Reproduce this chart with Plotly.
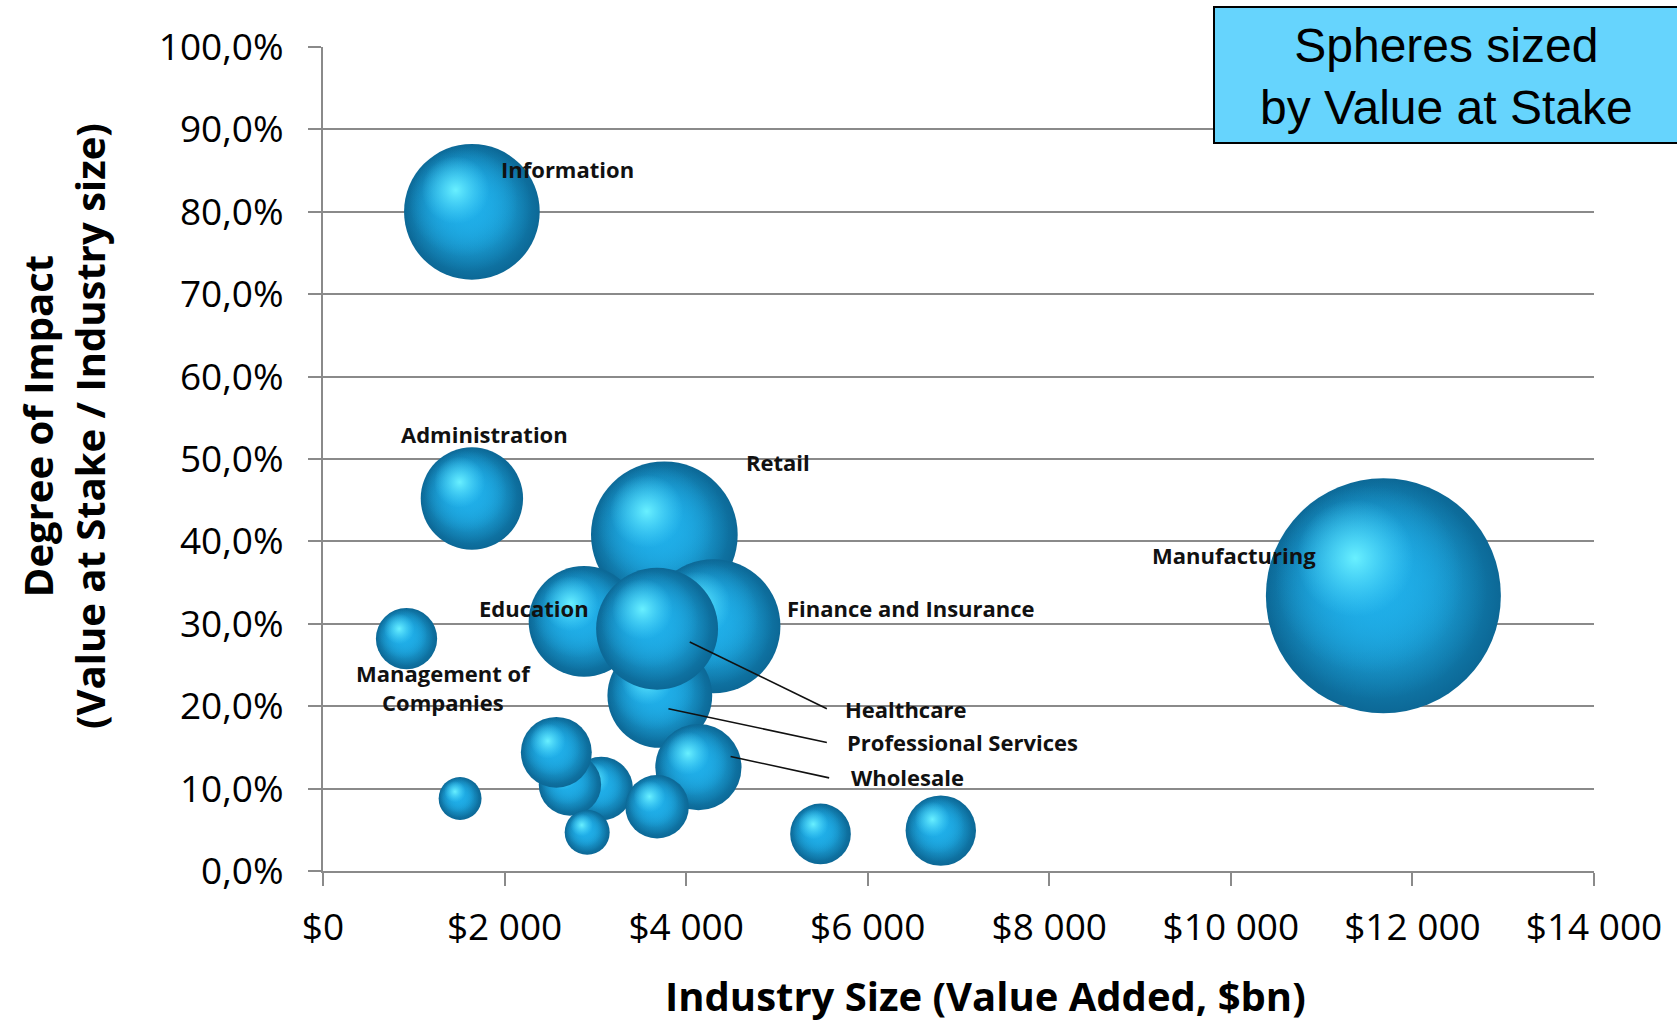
import math
import plotly.graph_objects as go

# ---------------- data ----------------
industries = ["Manufacturing", "Information", "Administration", "Retail", "Education",
              "Finance and Insurance", "Professional Services", "Healthcare",
              "Wholesale", "Management of Companies",
              "", "", "", "", "", "", "", ""]
industry_size = [11680, 1640, 1640, 3760, 2875, 4300, 3710, 3680, 4135, 920,
                 1510, 3065, 2720, 2570, 2910, 3680, 5480, 6805]          # $bn
degree_of_impact = [0.334, 0.800, 0.452, 0.408, 0.303, 0.297, 0.213, 0.294, 0.126, 0.282,
                    0.088, 0.100, 0.105, 0.144, 0.047, 0.078, 0.045, 0.049]
value_at_stake = [3900, 1300, 740, 1520, 865, 1270, 775, 1050, 525, 265,
                  130, 285, 275, 355, 143, 285, 260, 350]                # $bn

label_text = ["Information", "Administration", "Retail", "Manufacturing", "Education",
              "Finance and Insurance", "Management of<br>Companies", "Healthcare",
              "Professional Services", "Wholesale"]
label_x = [2690, 1780, 5010, 10030, 2320, 6480, 1330, 6420, 7045, 6435]
label_y = [0.852, 0.530, 0.496, 0.383, 0.319, 0.319, 0.223, 0.197, 0.156, 0.114]

leader_x0 = [4040, 3805, 4490]
leader_y0 = [0.278, 0.197, 0.139]
leader_x1 = [5550, 5550, 5575]
leader_y1 = [0.197, 0.156, 0.113]

x_ticks = [0, 2000, 4000, 6000, 8000, 10000, 12000, 14000]
x_tick_text = ["$0", "$2 000", "$4 000", "$6 000", "$8 000", "$10 000", "$12 000", "$14 000"]
y_ticks = [0.0, 0.1, 0.2, 0.3, 0.4, 0.5, 0.6, 0.7, 0.8, 0.9, 1.0]

# ---------------- layout geometry ----------------
W, H = 1677, 1024
L, R, T, B = 323, 83, 47, 153
PW, PH = W - L - R, H - T - B
X_RANGE = [0, 14000]
Y_RANGE = [0, 1.0]
px_per_x = PW / (X_RANGE[1] - X_RANGE[0])
px_per_y = PH / (Y_RANGE[1] - Y_RANGE[0])


def px(xpix):
    return (xpix - L) / PW


def py(ypix):
    return (H - B - ypix) / PH


D_MAX = 235.0
sizeref = 2.0 * max(value_at_stake) / D_MAX ** 2

fig = go.Figure()

# sphere shading layers: (diameter factor, dx, dy, edge colour, centre colour)
layers = [
    (1.00, 0.00, 0.00, "#0c6896", "#1eabe4"),
    (0.94, -0.03, -0.03, "rgba(30,170,228,0)", "rgba(30,170,228,1)"),
    (0.80, -0.06, -0.07, "rgba(32,176,234,0)", "rgba(32,176,234,1)"),
    (0.50, -0.12, -0.16, "rgba(75,215,252,0)", "rgba(105,240,255,1)"),
]

for name, xv, yv, v in zip(industries, industry_size, degree_of_impact, value_at_stake):
    D = math.sqrt(2.0 * v / sizeref)
    for f, dxf, dyf, c_edge, c_center in layers:
        fig.add_trace(go.Scatter(
            x=[xv + dxf * D / px_per_x],
            y=[yv - dyf * D / px_per_y],
            mode="markers",
            name=name,
            showlegend=False,
            hoverinfo="skip" if f < 1 else "x+y+name",
            marker=dict(size=[v * f * f], sizemode="area", sizeref=sizeref,
                        color=c_edge, opacity=1, line=dict(width=0),
                        gradient=dict(type="radial", color=c_center)),
        ))

# data labels
for t, lx, ly in zip(label_text, label_x, label_y):
    fig.add_annotation(x=lx, y=ly, xref="x", yref="y", text=t, showarrow=False,
                       xanchor="center", yanchor="middle",
                       font=dict(family="Open Sans", size=22, color="#111111", weight=700),
                       align="center")

# leader lines
for x0, y0, x1, y1 in zip(leader_x0, leader_y0, leader_x1, leader_y1):
    fig.add_shape(type="line", xref="x", yref="y", x0=x0, y0=y0, x1=x1, y1=y1,
                  line=dict(color="#111111", width=1.6), layer="above")

# legend-like box
fig.add_shape(type="rect", xref="paper", yref="paper",
              x0=px(1214), x1=px(1690), y0=py(143), y1=py(7),
              fillcolor="#66d4fd", line=dict(color="#000000", width=2), layer="above")
fig.add_annotation(xref="paper", yref="paper", x=px(1446), y=py(76),
                   xanchor="center", yanchor="middle",
                   text="Spheres sized<br>by Value at Stake", showarrow=False,
                   font=dict(family="Liberation Sans, Arial", size=48, color="#000000"),
                   align="center")

# axis titles
fig.add_annotation(xref="paper", yref="paper", x=px(985), y=py(995),
                   xanchor="center", yanchor="middle",
                   text="Industry Size (Value Added, $bn)", showarrow=False,
                   font=dict(family="Open Sans", size=40, color="#000000", weight=700))
fig.add_annotation(xref="paper", yref="paper", x=px(64), y=py(426),
                   xanchor="center", yanchor="middle",
                   text="Degree of Impact<br>(Value at Stake / Industry size)",
                   textangle=-90, showarrow=False,
                   font=dict(family="Open Sans", size=40, color="#000000", weight=700))

fig.update_layout(
    width=W, height=H,
    margin=dict(l=L, r=R, t=T, b=B, pad=0),
    paper_bgcolor="white", plot_bgcolor="white",
    separators=", ",
    font=dict(family="Open Sans", color="#000000"),
    xaxis=dict(range=X_RANGE, tickvals=x_ticks, ticktext=x_tick_text,
               showgrid=False, zeroline=False, showline=True, linecolor="#8a8a8a",
               linewidth=2, ticks="outside", ticklen=13, tickwidth=2, tickcolor="#8a8a8a",
               tickfont=dict(family="Open Sans", size=37, color="#000000"),
               ticklabelstandoff=10),
    yaxis=dict(range=Y_RANGE, tickvals=y_ticks, tickformat=".1%",
               showgrid=True, gridcolor="#8a8a8a", gridwidth=2, zeroline=False,
               showline=True, linecolor="#8a8a8a", linewidth=2, ticks="outside",
               ticklen=13, tickwidth=2, tickcolor="#8a8a8a",
               tickfont=dict(family="Open Sans", size=37, color="#000000"),
               ticklabelstandoff=17),
)

fig.write_html("out.html")
